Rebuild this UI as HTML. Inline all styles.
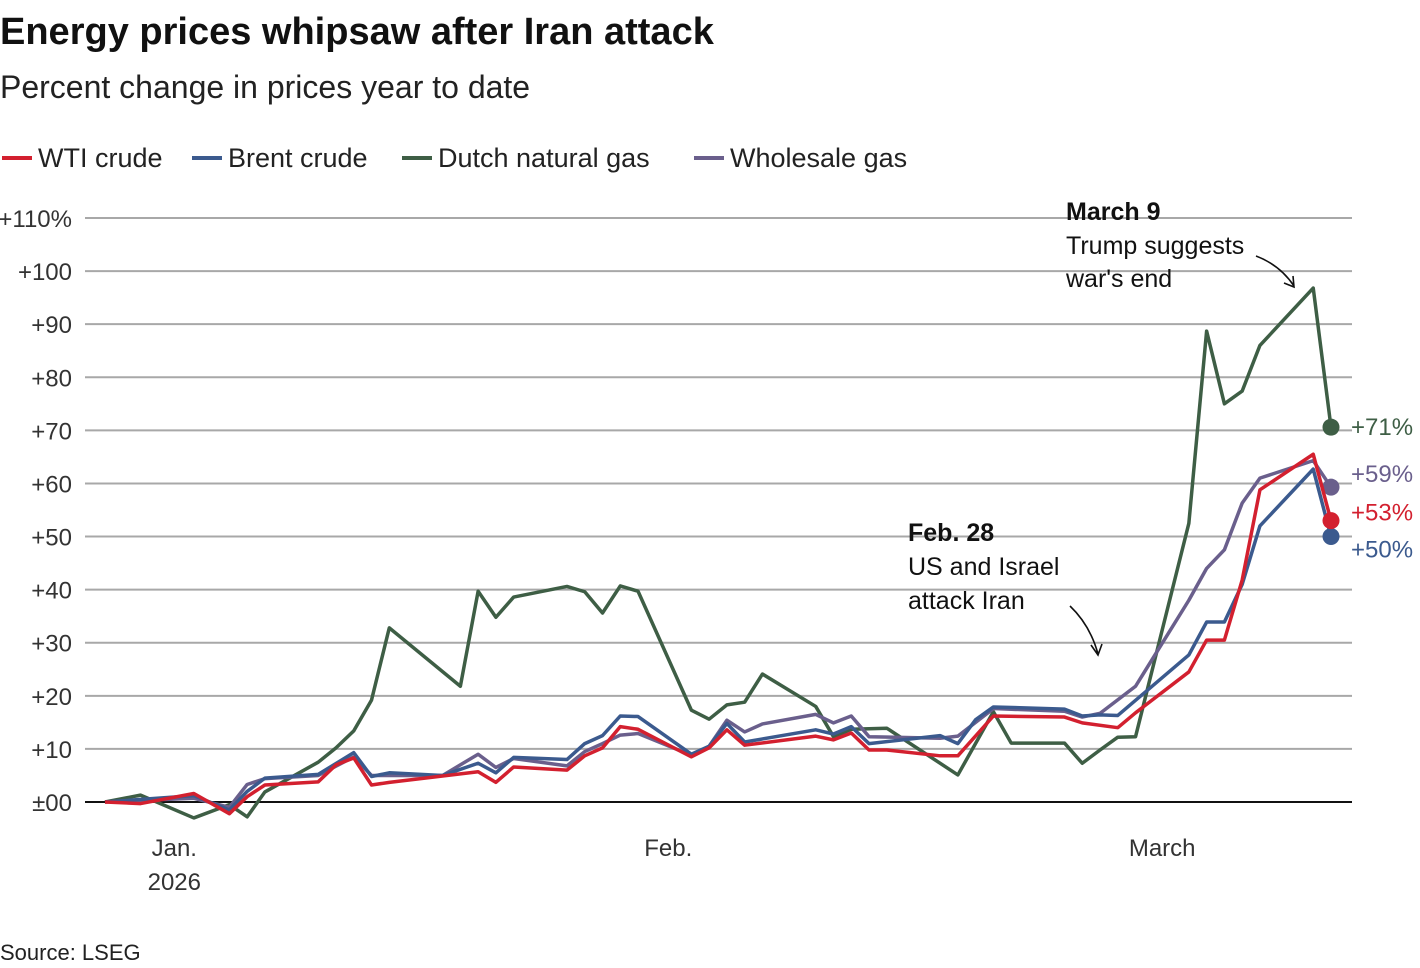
<!DOCTYPE html>
<html><head><meta charset="utf-8">
<style>
body{margin:0;background:#fff;font-family:"Liberation Sans","DejaVu Sans",sans-serif;}
#wrap{position:relative;width:1420px;height:968px;overflow:hidden;}
</style></head>
<body>
<div id="wrap">
<svg id="chart" width="1420" height="968" font-family="Liberation Sans, DejaVu Sans, sans-serif">
<text x="0" y="44" font-size="38" font-weight="bold" fill="#111" letter-spacing="0">Energy prices whipsaw after Iran attack</text>
<text x="0" y="98" font-size="32" fill="#222">Percent change in prices year to date</text>
<g font-size="27" fill="#222">
<g><line x1="2" y1="158" x2="32" y2="158" stroke="#d3202f" stroke-width="4"/><text x="38" y="167">WTI crude</text></g>
<g><line x1="192" y1="158" x2="222" y2="158" stroke="#3b5a8e" stroke-width="4"/><text x="228" y="167">Brent crude</text></g>
<g><line x1="402" y1="158" x2="432" y2="158" stroke="#3e5e45" stroke-width="4"/><text x="438" y="167">Dutch natural gas</text></g>
<g><line x1="694" y1="158" x2="724" y2="158" stroke="#6a5f8c" stroke-width="4"/><text x="730" y="167">Wholesale gas</text></g>
</g>
<g id="grid"></g>
<g id="yaxis"></g>
<g id="xaxis"></g>
<g id="series"></g>
<g font-size="25" fill="#111">
<text x="1066" y="220" font-weight="bold">March 9</text>
<text x="1066" y="254">Trump suggests</text>
<text x="1066" y="287">war's end</text>
<path d="M1256 256 Q1280 265 1294 286 M1284 283 L1294 287 L1293 276" fill="none" stroke="#111" stroke-width="1.6"/>
</g>
<g font-size="25" fill="#111">
<text x="908" y="541" font-weight="bold">Feb. 28</text>
<text x="908" y="575">US and Israel</text>
<text x="908" y="609">attack Iran</text>
<path d="M1070 606 Q1090 625 1098 654 M1091 645 L1098 655 L1102 644" fill="none" stroke="#111" stroke-width="1.6"/>
</g>
<text x="0" y="960" font-size="22" fill="#222">Source: LSEG</text>
</svg>
</div>
<script>
const yTicks = [0,10,20,30,40,50,60,70,80,90,100,110];
const yTickLabels = ["±00","+10","+20","+30","+40","+50","+60","+70","+80","+90","+100","+110%"];
const xTickDays = [3.9, 31.7, 59.5];
const xTickLabels = [["Jan.","2026"],["Feb."],["March"]];

const wtiDays = [0,2,5,7,8,9,12,13,14,15,16,21,22,23,26,27,28,29,30,33,34,35,36,40,41,42,43,44,47,48,50,54,55,57,58,61,62,63,64,65,68,69];
const wtiVals = [0,-0.3,1.6,-2.2,1,3.2,3.8,7,8.3,3.2,3.7,5.7,3.7,6.6,6,8.7,10.2,14.2,13.7,8.5,10.2,13.6,10.7,12.4,11.7,13,9.8,9.8,8.7,8.7,16.2,16,14.9,14,16.8,24.5,30.5,30.5,41.8,58.8,65.5,53];
const brentDays = [0,5,7,8,9,12,14,15,16,19,21,22,23,26,27,28,29,30,33,34,35,36,40,41,42,43,47,48,49,50,54,55,56,57,61,62,63,64,65,68,69];
const brentVals = [0,1.2,-1.5,2,4.5,5.2,9.3,4.8,5.5,5,7.3,5.5,8.4,8,11,12.5,16.2,16.1,9,10.5,14.8,11.3,13.6,12.8,14.2,11,12.5,11,15.5,17.9,17.5,16.2,16.4,16.3,27.7,33.9,33.9,41,52,62.7,50];
const dutchDays = [0,2,5,7,8,9,12,13,14,15,16,20,21,22,23,26,27,28,29,30,33,34,35,36,37,40,41,42,44,48,50,51,54,55,56,57,58,61,62,63,64,65,68,69];
const dutchVals = [0,1.3,-3,-0.5,-2.8,1.9,7.5,10.2,13.4,19.2,32.8,21.8,39.7,34.8,38.6,40.6,39.6,35.6,40.7,39.7,17.3,15.6,18.3,18.8,24.1,18,12.3,13.7,13.9,5.1,17,11.1,11.1,7.3,9.8,12.2,12.3,52.5,88.7,75,77.4,86,96.8,70.6];
const wholesaleDays = [0,5,7,8,9,12,14,15,19,21,22,23,26,27,28,29,30,33,34,35,36,37,40,41,42,43,47,48,50,54,55,56,58,61,62,63,64,65,68,69];
const wholesaleVals = [0,0.7,-1,3.3,4.4,5,8.5,5,5,9,6.5,8.2,6.8,9.5,11,12.6,12.9,8.8,10.5,15.4,13.2,14.7,16.5,14.9,16.2,12.3,12,12.4,17.6,17.1,16,16.7,21.8,38,44,47.5,56.3,61,64.3,59.3];

const NS="http://www.w3.org/2000/svg";
const X0=105, X1=1331, D1=69;
const Y0=802, Y1=218, V1=110;
function xs(d){return X0+(X1-X0)*d/D1;}
function ys(v){return Y0-(Y0-Y1)*v/V1;}
function mk(tag,attrs,parent){const e=document.createElementNS(NS,tag);for(const k in attrs)e.setAttribute(k,attrs[k]);parent.appendChild(e);return e;}

const grid=document.getElementById('grid'), yaxis=document.getElementById('yaxis'), xaxis=document.getElementById('xaxis'), series=document.getElementById('series');
yTicks.forEach((v,i)=>{
  const l=mk('line',{x1:85,x2:1352,y1:ys(v),y2:ys(v),stroke:v===0?'#111':'#a8a8a8','stroke-width':2},grid);
  
  
  const t=mk('text',{x:72,y:ys(v)+9,'text-anchor':'end','font-size':24,fill:'#333'},yaxis);
  t.textContent=yTickLabels[i];
  
  
});
xTickDays.forEach((d,i)=>{
  xTickLabels[i].forEach((s,j)=>{
    const t=mk('text',{x:xs(d),y:856+j*34,'text-anchor':'middle','font-size':24,fill:'#333'},xaxis);
    t.textContent=s;
    
    
  });
});
const defs=[
 ['dutch-gas',dutchDays,dutchVals,'#3e5e45','+71%',0],
 ['wholesale-gas',wholesaleDays,wholesaleVals,'#6a5f8c','+59%',-13],
 ['brent',brentDays,brentVals,'#3b5a8e','+50%',13],
 ['wti',wtiDays,wtiVals,'#d3202f','+53%',-8],
];
defs.forEach(([name,ds,vs,c,lab,dy])=>{
  const p=mk('polyline',{points:ds.map((d,i)=>xs(d)+','+ys(vs[i])).join(' '),fill:'none',stroke:c,'stroke-width':3.5,'stroke-linejoin':'round'},series);
  
  
  const n=ds.length-1;
  const dot=mk('circle',{cx:xs(ds[n]),cy:ys(vs[n]),r:8.5,fill:c},series);
  
  
  const t=mk('text',{x:1351,y:ys(vs[n])+8+dy,'font-size':24,fill:c},series);
  t.textContent=lab;
  
  
});
</script>
</body></html>
